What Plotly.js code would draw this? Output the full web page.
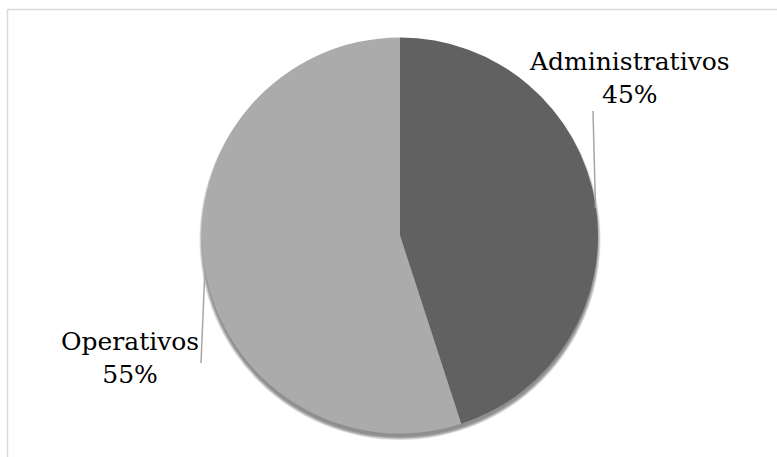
<!DOCTYPE html>
<html>
<head>
<meta charset="utf-8">
<script src="https://cdn.plot.ly/plotly-3.0.1.min.js"></script>
<style>
html,body{margin:0;padding:0;background:#fff;}
#chart{width:777px;height:457px;}
</style>
</head>
<body>
<div id="chart"></div>
<script>
const categories = ["Administrativos", "Operativos"];
const values = [45, 55];
const sliceColors = ["#616161", "#ababab"];

const W = 777, H = 457;
const cx = 400, cy = 235.5, r = 198;

const trace = {
  type: "pie",
  labels: categories,
  values: values,
  sort: false,
  direction: "clockwise",
  rotation: 0,
  marker: {colors: sliceColors, line: {width: 0}},
  textinfo: "none",
  hoverinfo: "label+percent",
  showlegend: false,
  domain: {
    x: [(cx - r) / W, (cx + r) / W],
    y: [(H - cy - r) / H, (H - cy + r) / H]
  }
};

const total = values.reduce((a, b) => a + b, 0);
const pct = values.map(v => Math.round(v / total * 100) + "%");

const serif = "DejaVu Serif";
const labelFont = {family: serif, size: 25, color: "#000"};

const shadowShapes = [];
[6, 5, 4, 3, 2, 1].forEach(d => {
  const rr = r - 1 + d * 0.6, oy = 4;
  shadowShapes.push({
    type: "circle", xref: "paper", yref: "paper", layer: "below",
    x0: (cx - rr) / W, x1: (cx + rr) / W,
    y0: (H - (cy + oy) - rr) / H, y1: (H - (cy + oy) + rr) / H,
    line: {width: 0}, fillcolor: "rgba(0,0,0,0.09)"
  });
});

const layout = {
  width: W, height: H,
  font: {family: serif},
  margin: {l: 0, r: 0, t: 0, b: 0},
  paper_bgcolor: "#fff",
  plot_bgcolor: "rgba(0,0,0,0)",
  showlegend: false,
  shapes: shadowShapes.concat([
    {type: "rect", xref: "paper", yref: "paper",
     x0: 7.5 / W, x1: (W + 5) / W, y0: -5 / H, y1: (H - 9.5) / H,
     line: {color: "#d9d9d9", width: 1.5}, fillcolor: "rgba(0,0,0,0)", layer: "below"},
    {type: "line", xref: "paper", yref: "paper",
     x0: 593 / W, y0: (H - 111) / H, x1: 595.5 / W, y1: (H - 208) / H,
     line: {color: "#a6a6a6", width: 1.5}},
    {type: "line", xref: "paper", yref: "paper",
     x0: 205 / W, y0: (H - 267) / H, x1: 201 / W, y1: (H - 363) / H,
     line: {color: "#a6a6a6", width: 1.5}}
  ]),
  annotations: [
    {xref: "paper", yref: "paper", x: 629 / W, y: (H - 78) / H,
     text: categories[0] + "<br>" + pct[0], showarrow: false,
     font: labelFont, align: "center", xanchor: "center", yanchor: "middle"},
    {xref: "paper", yref: "paper", x: 130 / W, y: (H - 358) / H,
     text: categories[1] + "<br>" + pct[1], showarrow: false,
     font: labelFont, align: "center", xanchor: "center", yanchor: "middle"}
  ]
};

Plotly.newPlot("chart", [trace], layout, {displayModeBar: false, staticPlot: true});
</script>
</body>
</html>
